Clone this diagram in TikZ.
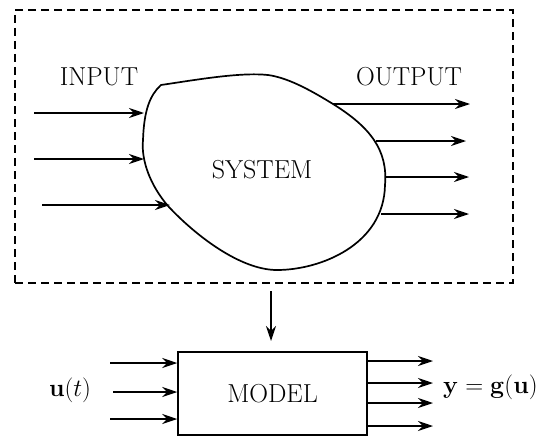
\documentclass[tikz,border=0pt]{standalone}
\usetikzlibrary{arrows.meta}
\begin{document}
\begin{tikzpicture}[x=1pt,y=-1pt,
  lbl/.style={font=\fontsize{26}{30}\selectfont, inner sep=0pt},
  sig/.style={line width=1.5pt, -{Stealth[length=15pt,width=10pt,inset=5pt]}},
  frame/.style={draw, line width=1.7pt, dash pattern=on 8pt off 5pt,
                minimum width=498pt, minimum height=273pt, inner sep=0pt},
  blob/.style={line width=1.7pt},
  modelbox/.style={draw, line width=1.5pt, minimum width=189pt,
                   minimum height=83pt, inner sep=0pt,
                   font=\fontsize{26}{30}\selectfont}]
\useasboundingbox (0,0) rectangle (537,436);

% dashed frame around the real system
\node[frame] (world) at (264,146.5) {};

% the system itself: an egg-shaped outline with one corner at top left
\draw[blob] (161,85)
  .. controls (195,80) and (240,72) .. (268,75)
  .. controls (290,78) and (315,93) .. (333,104)
  .. controls (370,127) and (388,150) .. (385,185)
  .. controls (384,245) and (320,270) .. (277,270)
  .. controls (240,270) and (195,235) .. (168,206)
  .. controls (150,185) and (141,160) .. (143,140)
  .. controls (144,110) and (150,95) .. (161,85) -- cycle;
\node[lbl] (system) at (262,170) {SYSTEM};
\node[lbl] (input) at (99,77) {INPUT};
\node[lbl] (output) at (409,77) {OUTPUT};

% inputs entering the system
\coordinate (i1s) at (34,113);  \coordinate (i1e) at (144,113);
\coordinate (i2s) at (34,159);  \coordinate (i2e) at (144,159);
\coordinate (i3s) at (42,205);  \coordinate (i3e) at (170,205);
\draw[sig] (i1s) -- (i1e);
\draw[sig] (i2s) -- (i2e);
\draw[sig] (i3s) -- (i3e);

% outputs leaving the system
\coordinate (o1s) at (333,104); \coordinate (o1e) at (470,104);
\coordinate (o2s) at (376,141); \coordinate (o2e) at (466,141);
\coordinate (o3s) at (385,177); \coordinate (o3e) at (469,177);
\coordinate (o4s) at (381,214); \coordinate (o4e) at (469,214);
\draw[sig] (o1s) -- (o1e);
\draw[sig] (o2s) -- (o2e);
\draw[sig] (o3s) -- (o3e);
\draw[sig] (o4s) -- (o4e);

% modelling step
\node[modelbox] (model) at (272.5,393.5) {MODEL};
\coordinate (d0) at (271,291);
\coordinate (d1) at (271,341);
\draw[sig] (d0) -- (d1);

% model inputs
\node[lbl] (u) at (70,390) {$\mathbf{u}(t)$};
\coordinate (m1s) at (110,363); \coordinate (m2s) at (113,392); \coordinate (m3s) at (110,419);
\draw[sig] (m1s) -- (model.west |- m1s);
\draw[sig] (m2s) -- (model.west |- m2s);
\draw[sig] (m3s) -- (model.west |- m3s);

% model outputs
\node[lbl, anchor=west] (y) at (443,387) {$\mathbf{y}=\mathbf{g}(\mathbf{u})$};
\coordinate (n1e) at (433,361); \coordinate (n2e) at (433,383);
\coordinate (n3e) at (433,403); \coordinate (n4e) at (433,426);
\draw[sig] (model.east |- n1e) -- (n1e);
\draw[sig] (model.east |- n2e) -- (n2e);
\draw[sig] (model.east |- n3e) -- (n3e);
\draw[sig] (model.east |- n4e) -- (n4e);
\end{tikzpicture}
\end{document}
